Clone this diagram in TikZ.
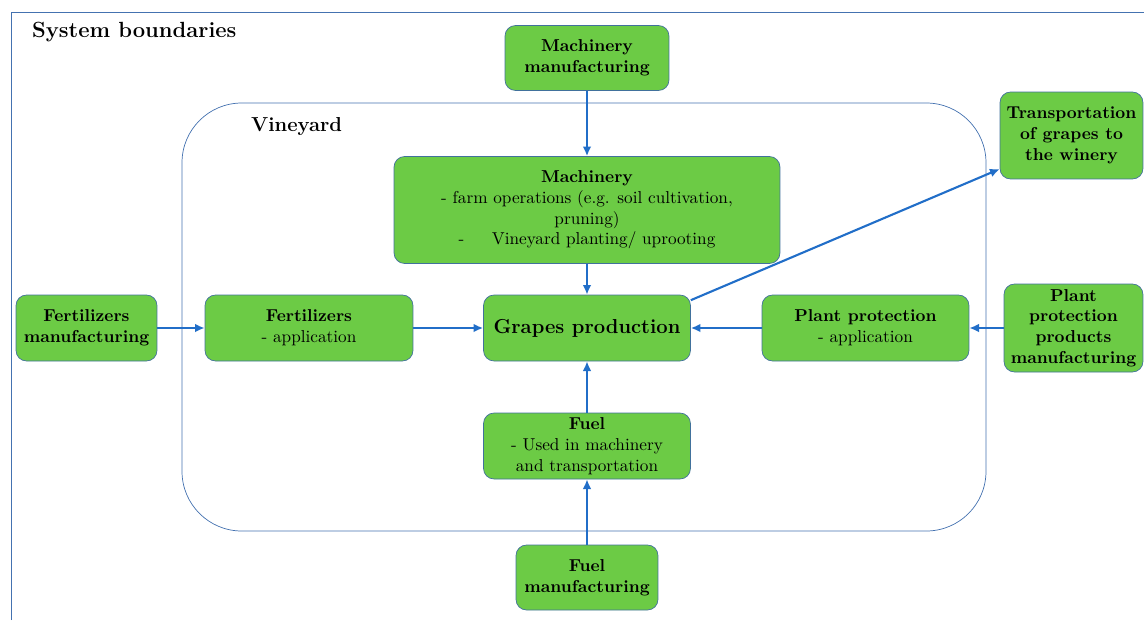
\documentclass[tikz,border=0pt]{standalone}
\usepackage{fontspec}
\usetikzlibrary{arrows.meta}

\definecolor{boxgreen}{RGB}{108,203,69}
\definecolor{boxedge}{RGB}{65,113,156}
\definecolor{flowblue}{RGB}{33,110,200}
\definecolor{linegrey}{RGB}{68,114,176}

\tikzset{
	stage/.style = {draw = boxedge, fill = boxgreen, rounded corners = 6pt, align = center,
		inner sep = 2pt, font = \fontsize{9.8}{11.8}\selectfont},
	flow/.style = {draw = flowblue, line width = 1.2pt, -{Latex[length = 5.5pt, width = 5pt]}},
}

\begin{document}
\begin{tikzpicture}[x = 0.02cm, y = -0.02cm]

	\useasboundingbox (0, 0) rectangle (1144, 620);

	% System boundaries and vineyard
	
	\draw [linegrey] (11, 620) -- (11, 12) -- (1144, 12);
	\node [anchor = west, font = \bfseries\fontsize{12.5}{14}\selectfont] (sysb) at (26, 32) {System boundaries};
	
	\draw [linegrey, rounded corners = 34pt] (182, 103) rectangle (986, 531);
	\node [anchor = west, font = \bfseries\fontsize{11.5}{13}\selectfont] (vine) at (245, 127) {Vineyard};

	% Stages
	
	\node [stage, minimum width = 3.28cm, minimum height = 1.3cm] (mman) at (587, 58)
		{\textbf{Machinery}\\\textbf{manufacturing}};
	\node [stage, minimum width = 7.72cm, minimum height = 2.14cm] (mach) at (587, 210)
		{\textbf{Machinery}\\- farm operations (e.g. soil cultivation,\\pruning)\\-\hspace{1.6em}Vineyard planting/ uprooting};
	\node [stage, minimum width = 2.86cm, minimum height = 1.74cm] (trans) at (1071.5, 135.5)
		{\textbf{Transportation}\\\textbf{of grapes to}\\\textbf{the winery}};
	
	\node [stage, minimum width = 2.82cm, minimum height = 1.32cm] (fman) at (86.5, 328)
		{\textbf{Fertilizers}\\\textbf{manufacturing}};
	\node [stage, minimum width = 4.16cm, minimum height = 1.32cm] (fapp) at (309, 328)
		{\textbf{Fertilizers}\\- application};
	\node [stage, minimum width = 4.14cm, minimum height = 1.32cm, font = \bfseries\fontsize{11.5}{13}\selectfont] (grapes) at (587, 328)
		{Grapes production};
	\node [stage, minimum width = 4.14cm, minimum height = 1.32cm] (papp) at (865.5, 328)
		{\textbf{Plant protection}\\- application};
	\node [stage, minimum width = 2.78cm, minimum height = 1.76cm] (pman) at (1073.5, 328)
		{\textbf{Plant}\\\textbf{protection}\\\textbf{products}\\\textbf{manufacturing}};
	
	\node [stage, minimum width = 4.14cm, minimum height = 1.32cm] (fuel) at (587, 446)
		{\textbf{Fuel}\\- Used in machinery\\and transportation};
	\node [stage, minimum width = 2.84cm, minimum height = 1.3cm] (fman2) at (587, 577.5)
		{\textbf{Fuel}\\\textbf{manufacturing}};

	% Flows
	
	\draw [flow] (mman) -- (mach);
	\draw [flow] (mach) -- (grapes);
	\draw [flow] (fman) -- (fapp);
	\draw [flow] (fapp) -- (grapes);
	\draw [flow] (pman) -- (papp);
	\draw [flow] (papp) -- (grapes);
	\draw [flow] (fuel) -- (grapes);
	\draw [flow] (fman2) -- (fuel);
	\draw [flow] (grapes.15) -- (trans.205);

\end{tikzpicture}
\end{document}
